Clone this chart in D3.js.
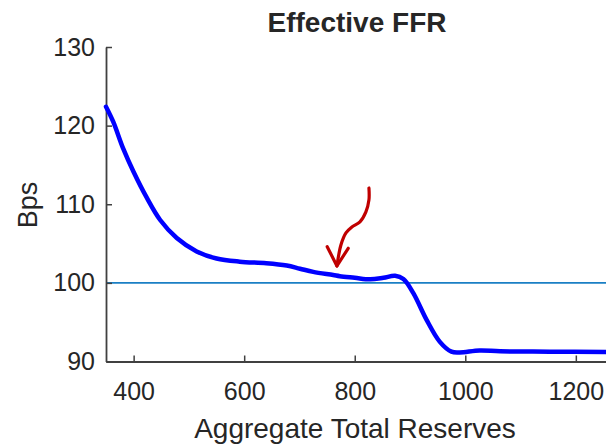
<!DOCTYPE html>
<html>
<head>
<meta charset="utf-8">
<script src="https://cdn.jsdelivr.net/npm/d3@7"></script>
<style>
  html, body { margin: 0; padding: 0; background: #fff; }
  svg { display: block; }
  text { font-family: "Liberation Sans", Arial, Helvetica, sans-serif; fill: #262626; }
</style>
</head>
<body>
<svg id="chart" width="606" height="445"></svg>
<script>
// ---- data ----
const reserves = [350, 363, 381, 400, 424, 448, 478, 514, 550, 592, 640, 677, 701, 725, 761, 773, 800, 828, 852, 873, 888, 906, 930, 954, 975, 990, 1026, 1063, 1153, 1260];
const effectiveFFR = [122.4, 120.5, 117.1, 114.1, 110.8, 108.0, 105.7, 104.0, 103.1, 102.7, 102.5, 102.2, 101.8, 101.4, 101.0, 100.85, 100.65, 100.45, 100.65, 100.9, 100.5, 98.7, 95.3, 92.5, 91.25, 91.15, 91.4, 91.3, 91.25, 91.2];
const referenceLevel = 100;
const xTicks = [400, 600, 800, 1000, 1200];
const yTicks = [90, 100, 110, 120, 130];
const xDomain = [350, 1260];
const yDomain = [90, 130];
// hand-drawn annotation arrow (data coordinates)
const arrowStemX = [825.7, 825.7, 820.2, 809.4, 794.9, 784.1, 775.0, 767.8];
const arrowStemY = [112.07, 110.55, 109.03, 107.76, 107.12, 106.36, 104.82, 102.15];
const arrowHeadX = [750.2, 767.8, 788.2];
const arrowHeadY = [104.6, 102.15, 104.4];
const titleText = "Effective FFR";
const xLabel = "Aggregate Total Reserves";
const yLabel = "Bps";

// ---- chart ----
const svg = d3.select("#chart");
const x = d3.scaleLinear().domain(xDomain).range([106, 609]);
const y = d3.scaleLinear().domain(yDomain).range([361.5, 47]);
const axisColor = "#404040";

// reference line
svg.append("line")
  .attr("x1", x(xDomain[0])).attr("x2", x(xDomain[1]))
  .attr("y1", y(referenceLevel)).attr("y2", y(referenceLevel))
  .attr("stroke", "#1a7fc4").attr("stroke-width", 1.6);

// axes
const gx = svg.append("g").attr("transform", `translate(0,${y(yDomain[0])})`)
  .call(d3.axisBottom(x).tickValues(xTicks).tickSizeInner(-6).tickSizeOuter(0).tickPadding(21).tickFormat(d3.format("d")));
const gy = svg.append("g").attr("transform", `translate(${x(xDomain[0])},0)`)
  .call(d3.axisLeft(y).tickValues(yTicks).tickSizeInner(-6).tickSizeOuter(0).tickPadding(11).tickFormat(d3.format("d")));
[gx, gy].forEach(g => {
  g.select(".domain").attr("stroke", axisColor).attr("stroke-width", 1.8);
  g.selectAll(".tick line").attr("stroke", axisColor).attr("stroke-width", 1.5);
  g.selectAll(".tick text").attr("fill", "#262626").style("font-size", "25px")
    .style("font-family", '"Liberation Sans", Arial, sans-serif');
});

// curve
const pts = reserves.map((r, i) => [r, effectiveFFR[i]]);
svg.append("path")
  .datum(pts)
  .attr("fill", "none")
  .attr("stroke", "#0000ff")
  .attr("stroke-width", 4.5)
  .attr("stroke-linejoin", "round")
  .attr("stroke-linecap", "round")
  .attr("d", d3.line().x(d => x(d[0])).y(d => y(d[1])).curve(d3.curveCatmullRom.alpha(0.5)));

// annotation arrow
const stem = arrowStemX.map((v, i) => [v, arrowStemY[i]]);
const head = arrowHeadX.map((v, i) => [v, arrowHeadY[i]]);
svg.append("path").datum(stem)
  .attr("fill", "none").attr("stroke", "#c00000").attr("stroke-width", 3.2).attr("stroke-linecap", "round")
  .attr("d", d3.line().x(d => x(d[0])).y(d => y(d[1])).curve(d3.curveCatmullRom.alpha(0.5)));
svg.append("path").datum(head)
  .attr("fill", "none").attr("stroke", "#c00000").attr("stroke-width", 3.2).attr("stroke-linecap", "round").attr("stroke-linejoin", "round")
  .attr("d", d3.line().x(d => x(d[0])).y(d => y(d[1])));

// title and labels
svg.append("text").attr("x", 357).attr("y", 31.5).attr("text-anchor", "middle")
  .style("font-size", "28px").style("font-weight", "bold").attr("fill", "#000").text(titleText);
svg.append("text").attr("x", 355).attr("y", 438).attr("text-anchor", "middle")
  .style("font-size", "28px").text(xLabel);
svg.append("text").attr("transform", "translate(37,205) rotate(-90)").attr("text-anchor", "middle")
  .style("font-size", "27px").text(yLabel);
</script>
</body>
</html>
